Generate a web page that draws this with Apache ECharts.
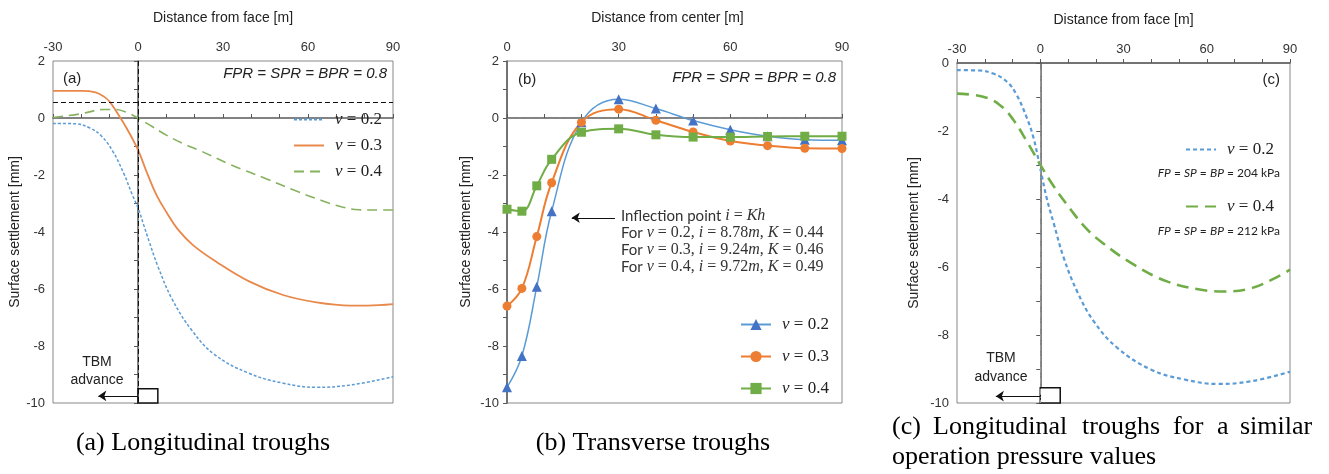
<!DOCTYPE html>
<html>
<head>
<meta charset="utf-8">
<script src="https://cdn.jsdelivr.net/npm/echarts@6/dist/echarts.min.js"></script>
<style>
  html, body { margin: 0; padding: 0; background: #fff; }
  #chart { width: 1329px; height: 474px; }
</style>
</head>
<body>
<div id="chart"></div>
<script>
// (a) longitudinal troughs, FPR = SPR = BPR = 0.8
const aX02 = [-30, -22, -17, -13, -9, -5, -2, 0, 2, 4, 7, 12, 19, 27, 39, 51, 63, 75, 90];
const aY02 = [-0.19, -0.2, -0.35, -0.62, -1.15, -1.95, -2.7, -3.15, -3.75, -4.35, -5.2, -6.35, -7.45, -8.3, -8.95, -9.3, -9.45, -9.37, -9.08];
const aX03 = [-30, -20, -15, -12, -10, -7.6, -4, 0, 3, 6.5, 10, 14, 19.4, 27.6, 39.4, 51.2, 63, 75, 81, 90];
const aY03 = [0.95, 0.95, 0.9, 0.75, 0.57, 0.22, -0.36, -1.12, -1.88, -2.7, -3.3, -3.9, -4.46, -5.04, -5.74, -6.21, -6.47, -6.58, -6.58, -6.53];
const aX04 = [-30, -20, -12, -8, -4, 0, 5, 10, 16, 22, 33, 45, 55, 65, 72, 78, 84, 90];
const aY04 = [0.02, 0.15, 0.3, 0.3, 0.2, 0.0, -0.3, -0.6, -0.9, -1.15, -1.65, -2.12, -2.53, -2.9, -3.12, -3.22, -3.23, -3.23];

// (b) transverse troughs
const bX = [0, 4, 8, 12, 20, 30, 40, 50, 60, 70, 80, 90];
const bY02 = [-9.45, -8.35, -5.92, -3.27, -0.15, 0.66, 0.33, -0.09, -0.41, -0.64, -0.76, -0.78];
const bY03 = [-6.6, -5.98, -4.16, -2.27, -0.15, 0.31, -0.08, -0.49, -0.81, -0.97, -1.06, -1.07];
const bY04 = [-3.2, -3.27, -2.38, -1.45, -0.5, -0.38, -0.59, -0.67, -0.67, -0.65, -0.64, -0.64];

// (c) similar operation pressure
const cX02 = [-30, -22, -17, -12, -8.5, -4.8, -2.4, 0, 2.4, 4.8, 8.5, 13.3, 19.3, 27.8, 40, 52, 64, 76, 90];
const cY02 = [-0.21, -0.22, -0.31, -0.55, -0.94, -1.62, -2.21, -3.1, -4.0, -4.7, -5.74, -6.72, -7.6, -8.38, -9.02, -9.31, -9.44, -9.36, -9.08];
const cX04 = [-30, -20.6, -14.5, -9.7, -4.8, 0, 4.8, 10.9, 15.7, 21.8, 33.9, 45.9, 58, 66.5, 76.2, 84, 90];
const cY04 = [-0.9, -0.99, -1.24, -1.67, -2.31, -2.99, -3.62, -4.3, -4.79, -5.25, -5.94, -6.43, -6.67, -6.72, -6.62, -6.35, -6.08];

const pairs = (xs, ys) => xs.map((x, i) => [x, ys[i]]);

const sans = 'Liberation Sans';
const serif = 'Liberation Serif';
const axisCol = '#595959';

function xAx(gi, min, max, name, shift) {
  return {
    gridIndex: gi, type: 'value', position: 'top', min: min, max: max, interval: 10,
    name: name, nameLocation: 'middle', nameGap: 36,
    nameTextStyle: { fontFamily: sans, fontSize: 14, color: '#222', padding: [0, shift || 0, 0, 0] },
    axisLine: { lineStyle: { color: axisCol, width: 1.5 } },
    axisTick: { length: 4, lineStyle: { color: axisCol } },
    axisLabel: { formatter: v => (v % 30 === 0 ? String(v) : ''), fontFamily: sans, fontSize: 13, color: '#333', margin: 7 },
    splitLine: { show: false }
  };
}
function yAx(gi, min, max, gap) {
  return {
    gridIndex: gi, type: 'value', min: min, max: max, interval: 1,
    name: 'Surface settlement [mm]', nameLocation: 'middle', nameGap: gap,
    nameTextStyle: { fontFamily: sans, fontSize: 14, color: '#222' },
    axisLine: { lineStyle: { color: axisCol, width: 1.5 } },
    axisTick: { length: 4, lineStyle: { color: axisCol } },
    axisLabel: { formatter: v => (v % 2 === 0 ? String(v) : ''), fontFamily: sans, fontSize: 13, color: '#333', margin: 8 },
    splitLine: { show: false }
  };
}

const legText = {
  fontFamily: serif, fontSize: 17, color: '#222', padding: [0, 0, 0, 6],
  rich: { i: { fontFamily: serif, fontStyle: 'italic', fontSize: 17, color: '#222' } }
};
const legFmt = n => '{i|ν} = ' + n.slice(1);
// line-only legends: hide the default symbol drawn on the icon
const noSym = { opacity: 0 };

const chart = echarts.init(document.getElementById('chart'));

const option = {
  animation: false,
  backgroundColor: '#fff',
  grid: [
    { left: 53, top: 61, width: 340, height: 342, show: true, borderColor: '#888', borderWidth: 1 },
    { left: 507, top: 61, width: 335, height: 342, show: true, borderColor: '#888', borderWidth: 1 },
    { left: 957, top: 63, width: 333, height: 340, show: true, borderColor: '#888', borderWidth: 1 }
  ],
  xAxis: [
    xAx(0, -30, 90, 'Distance from face [m]'),
    xAx(1, 0, 90, 'Distance from center [m]', 14),
    xAx(2, -30, 90, 'Distance from face [m]')
  ],
  yAxis: [
    yAx(0, -10, 2, 30),
    yAx(1, -10, 2, 34),
    yAx(2, -10, 0, 36)
  ],
  legend: [
    { data: ['a0.2', 'a0.3', 'a0.4'], orient: 'vertical', left: 288, top: 106, itemWidth: 30, itemHeight: 14, itemGap: 9,
      itemStyle: noSym, formatter: legFmt, textStyle: legText },
    { data: ['b0.2', 'b0.3', 'b0.4'], orient: 'vertical', left: 735, top: 311, itemWidth: 30, itemHeight: 14, itemGap: 15,
      formatter: legFmt, textStyle: legText },
    { data: ['c0.2'], orient: 'vertical', left: 1180, top: 136, itemWidth: 30, itemHeight: 14,
      itemStyle: noSym, formatter: legFmt, textStyle: legText },
    { data: ['c0.4'], orient: 'vertical', left: 1180, top: 193, itemWidth: 30, itemHeight: 14,
      itemStyle: noSym, formatter: legFmt, textStyle: legText }
  ],
  series: [
    {
      name: 'a0.2', type: 'line', xAxisIndex: 0, yAxisIndex: 0, data: pairs(aX02, aY02),
      smooth: 0.4, symbol: 'none', lineStyle: { color: '#5b9bd5', width: 1.5, type: [3, 2] }, itemStyle: { color: '#5b9bd5' },
      markLine: {
        silent: true, symbol: 'none', label: { show: false },
        lineStyle: { color: '#111', width: 1, type: [5, 3] },
        data: [
          [{ coord: [0, 2] }, { coord: [0, -10] }],
          [{ coord: [-30, 0.55] }, { coord: [90, 0.55] }]
        ]
      }
    },
    {
      name: 'a0.3', type: 'line', xAxisIndex: 0, yAxisIndex: 0, data: pairs(aX03, aY03),
      smooth: 0.4, symbol: 'none', lineStyle: { color: '#e8884a', width: 1.8 }, itemStyle: { color: '#e8884a' },
      markLine: {
        silent: true, label: { show: false },
        lineStyle: { color: '#111', width: 1, type: 'solid' },
        data: [
          [{ coord: [0, -9.75], symbol: 'none' }, { coord: [-14, -9.75], symbol: 'arrow', symbolSize: 8 }]
        ]
      }
    },
    {
      name: 'a0.4', type: 'line', xAxisIndex: 0, yAxisIndex: 0, data: pairs(aX04, aY04),
      smooth: 0.4, symbol: 'none', lineStyle: { color: '#86b25f', width: 1.6, type: [10, 6] }, itemStyle: { color: '#86b25f' },
      markArea: {
        silent: true, itemStyle: { color: '#fff', borderColor: '#111', borderWidth: 1.5 },
        data: [[{ coord: [0, -9.5] }, { coord: [7, -10] }]]
      }
    },
    {
      name: 'b0.2', type: 'line', xAxisIndex: 1, yAxisIndex: 1, data: pairs(bX, bY02),
      smooth: 0.4, symbol: 'triangle', symbolSize: 10, showAllSymbol: true,
      lineStyle: { color: '#5b9bd5', width: 1.5 }, itemStyle: { color: '#4472c4' },
      markLine: {
        silent: true, symbol: 'none', label: { show: false },
        lineStyle: { color: '#888', width: 1.2, type: [6, 4] },
        data: [[{ coord: [0, 0] }, { coord: [90, 0] }]]
      }
    },
    {
      name: 'b0.3', type: 'line', xAxisIndex: 1, yAxisIndex: 1, data: pairs(bX, bY03),
      smooth: 0.4, symbol: 'circle', symbolSize: 9, showAllSymbol: true,
      lineStyle: { color: '#ed7d31', width: 2 }, itemStyle: { color: '#ed7d31' },
      markLine: {
        silent: true, label: { show: false },
        lineStyle: { color: '#111', width: 1, type: 'solid' },
        data: [[{ coord: [29, -3.5], symbol: 'none' }, { coord: [17.4, -3.5], symbol: 'arrow', symbolSize: 8 }]]
      }
    },
    {
      name: 'b0.4', type: 'line', xAxisIndex: 1, yAxisIndex: 1, data: pairs(bX, bY04),
      smooth: 0.4, symbol: 'rect', symbolSize: 9, showAllSymbol: true,
      lineStyle: { color: '#70ad47', width: 2 }, itemStyle: { color: '#70ad47' }
    },
    {
      name: 'c0.2', type: 'line', xAxisIndex: 2, yAxisIndex: 2, data: pairs(cX02, cY02),
      smooth: 0.4, symbol: 'none', lineStyle: { color: '#5b9bd5', width: 2.2, type: [4, 3] }, itemStyle: { color: '#5b9bd5' },
      markLine: {
        silent: true, symbol: 'none', label: { show: false },
        lineStyle: { color: '#999', width: 1, type: [6, 2, 1, 2] },
        data: [[{ coord: [0, -0.2] }, { coord: [0, -10] }]]
      }
    },
    {
      name: 'c0.4', type: 'line', xAxisIndex: 2, yAxisIndex: 2, data: pairs(cX04, cY04),
      smooth: 0.4, symbol: 'none', lineStyle: { color: '#70ad47', width: 2.6, type: [12, 7] }, itemStyle: { color: '#70ad47' },
      markLine: {
        silent: true, label: { show: false },
        lineStyle: { color: '#111', width: 1, type: 'solid' },
        data: [[{ coord: [0, -9.8], symbol: 'none' }, { coord: [-16, -9.8], symbol: 'arrow', symbolSize: 8 }]]
      },
      markArea: {
        silent: true, itemStyle: { color: '#fff', borderColor: '#111', borderWidth: 1.5 },
        data: [[{ coord: [0, -9.55] }, { coord: [7.2, -10] }]]
      }
    }
  ]
};

// text annotations
const t = (x, y, text, style) => ({
  type: 'text', x: x, y: y, silent: true,
  style: Object.assign({ text: text, fontFamily: sans, fontSize: 14, fill: '#222', align: 'left', verticalAlign: 'middle' }, style || {})
});
const mathRich = {
  s: { fontFamily: 'Lato', fontSize: 15, fill: '#333' },
  m: { fontFamily: serif, fontSize: 16, fill: '#333' },
  i: { fontFamily: serif, fontSize: 16, fontStyle: 'italic', fill: '#333' }
};
const capStyle = { fontFamily: serif, fontSize: 26, fill: '#000' };
const kpaRich = { i: { fontFamily: 'Lato', fontStyle: 'italic', fontSize: 12, fill: '#222' } };

option.graphic = [
  // panel (a)
  t(63, 79, '(a)', { fontSize: 15 }),
  t(387, 74, 'FPR = SPR = BPR = 0.8', { align: 'right', fontStyle: 'italic', fontSize: 15 }),
  t(97, 362, 'TBM', { align: 'center' }),
  t(97, 380, 'advance', { align: 'center' }),
  // panel (b)
  t(518, 80, '(b)', { fontSize: 15 }),
  t(836, 78, 'FPR = SPR = BPR = 0.8', { align: 'right', fontStyle: 'italic', fontSize: 15 }),
  t(621, 216, '{s|Inflection point }{i|i}{m| = }{i|Kh}', { rich: mathRich }),
  t(621, 233, '{s|For }{i|ν}{m| = 0.2, }{i|i}{m| = 8.78}{i|m}{m|, }{i|K}{m| = 0.44}', { rich: mathRich }),
  t(621, 250, '{s|For }{i|ν}{m| = 0.3, }{i|i}{m| = 9.24}{i|m}{m|, }{i|K}{m| = 0.46}', { rich: mathRich }),
  t(621, 267, '{s|For }{i|ν}{m| = 0.4, }{i|i}{m| = 9.72}{i|m}{m|, }{i|K}{m| = 0.49}', { rich: mathRich }),
  // panel (c)
  t(1280, 80, '(c)', { align: 'right', fontSize: 15 }),
  t(1280, 173, '{i|FP} = {i|SP} = {i|BP} = 204 kPa', { align: 'right', fontFamily: 'Lato', fontSize: 12, rich: kpaRich }),
  t(1280, 231, '{i|FP} = {i|SP} = {i|BP} = 212 kPa', { align: 'right', fontFamily: 'Lato', fontSize: 12, rich: kpaRich }),
  t(1001, 358, 'TBM', { align: 'center' }),
  t(1001, 377, 'advance', { align: 'center' }),
  // captions
  t(203, 443, '(a) Longitudinal troughs', Object.assign({ align: 'center' }, capStyle)),
  t(653, 443, '(b) Transverse troughs', Object.assign({ align: 'center' }, capStyle)),
  t(892, 427, '(c)', capStyle),
  t(933, 427, 'Longitudinal', capStyle),
  t(1082, 427, 'troughs', capStyle),
  t(1173, 427, 'for', capStyle),
  t(1217, 427, 'a', capStyle),
  t(1240, 427, 'similar', capStyle),
  t(892, 457, 'operation pressure values', capStyle)
];

chart.setOption(option);
</script>
</body>
</html>
